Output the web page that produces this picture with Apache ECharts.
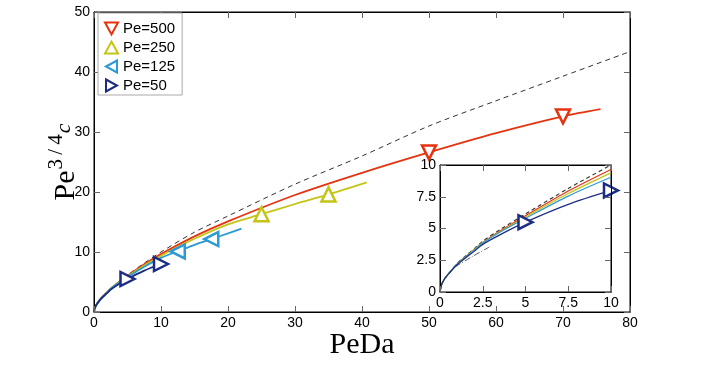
<!DOCTYPE html>
<html>
<head>
<meta charset="utf-8">
<script src="https://cdn.jsdelivr.net/npm/echarts@6/dist/echarts.min.js"></script>
<style>
  html, body { margin: 0; padding: 0; background: #fff; }
  #main { width: 706px; height: 377px; }
</style>
</head>
<body>
<div id="main"></div>
<script>
// curves (x = PeDa, y = Pe^{3/4} c)
var xDash = [0, 0.1, 0.25, 0.5, 1, 1.5, 2, 2.5, 3.5, 5, 7.5, 10, 15, 20, 30, 40, 50, 60, 70, 80];
var yDash = [0, 0.6, 1.0, 1.45, 2.25, 2.85, 3.4, 4.0, 4.9, 6.15, 8.15, 10.0, 13.3, 16.0, 21.3, 26.0, 31.0, 35.2, 39.3, 43.4];

var x500 = [0, 0.1, 0.25, 0.5, 1, 1.5, 2, 2.5, 3.5, 5, 7.5, 10, 15, 20, 30, 40, 50, 60, 70, 75.6];
var y500 = [0, 0.6, 1.0, 1.45, 2.2, 2.8, 3.35, 3.9, 4.8, 6.0, 7.95, 9.65, 12.6, 15.1, 19.5, 23.2, 26.6, 29.8, 32.6, 33.8];

var x250 = [0, 0.1, 0.25, 0.5, 1, 1.5, 2, 2.5, 3.5, 5, 7.5, 10, 15, 20, 25, 30, 35, 40.7];
var y250 = [0, 0.6, 1.0, 1.45, 2.2, 2.78, 3.33, 3.88, 4.75, 5.9, 7.75, 9.38, 12.2, 14.6, 16.3, 18.0, 19.6, 21.6];

var x125 = [0, 0.1, 0.25, 0.5, 1, 1.5, 2, 2.5, 3.5, 5, 7.5, 10, 12.5, 15, 17.5, 20, 22];
var y125 = [0, 0.6, 1.0, 1.45, 2.2, 2.75, 3.3, 3.85, 4.7, 5.8, 7.55, 9.03, 10.1, 11.2, 12.15, 13.1, 13.9];

var x50 = [0, 0.1, 0.25, 0.5, 1, 1.5, 2, 2.5, 3.5, 5, 7.5, 10];
var y50 = [0, 0.6, 1.0, 1.42, 2.15, 2.7, 3.2, 3.75, 4.5, 5.5, 6.9, 8.0];

// short-time asymptote (inset only)
var xDot = [0.9, 1.9, 2.9];
var yDot = [2.0, 2.8, 3.55];

// markers
var mk500 = [[50, 26.6], [70, 32.6]];
var mk250 = [[25, 16.3], [35, 19.6]];
var mk125 = [[12.5, 10.1], [17.5, 12.15]];
var mk50 = [[5, 5.5], [10, 8.0]];

var names = ['Pe=500', 'Pe=250', 'Pe=125', 'Pe=50'];
var colors = ['#e5330f', '#c4c417', '#2b9ad6', '#1b2c82'];
var rotations = [180, 0, 90, -90];
// legend icons: down, up, left, right triangles
var icons = [
    'path://M0,0L12,0L6,11Z',
    'path://M6,0L12,11L0,11Z',
    'path://M0,6L11,0L11,12Z',
    'path://M0,0L11,6L0,12Z'
];

function pairs(xs, ys, xmax) {
    var out = [];
    for (var i = 0; i < xs.length; i++) {
        if (xmax === undefined || xs[i] <= xmax) out.push([xs[i], ys[i]]);
    }
    return out;
}

var font = 'Liberation Sans';
var serif = 'Liberation Serif';

function tick() { return {show: true, inside: true, length: 6, lineStyle: {color: '#666', width: 1}}; }
function aline() { return {show: true, onZero: false, lineStyle: {color: '#000', width: 1}}; }
function lbl() { return {show: true, color: '#000', fontFamily: font, fontSize: 14, margin: 4}; }
function bare() { return {show: false}; }

var xAxes = [
    {type: 'value', gridIndex: 0, position: 'bottom', min: 0, max: 80, interval: 10, splitLine: bare(),
     axisTick: tick(), axisLine: aline(), axisLabel: lbl(), z: 5,
     name: 'PeDa', nameLocation: 'middle', nameGap: 18, nameMoveOverlap: false,
     nameTextStyle: {fontFamily: serif, fontSize: 30, color: '#000'}},
    {type: 'value', gridIndex: 0, position: 'top', min: 0, max: 80, interval: 10, splitLine: bare(),
     axisTick: tick(), axisLine: aline(), axisLabel: bare(), z: 5},
    {type: 'value', gridIndex: 1, position: 'bottom', min: 0, max: 10, interval: 2.5, splitLine: bare(),
     axisTick: tick(), axisLine: aline(), axisLabel: lbl(), z: 15},
    {type: 'value', gridIndex: 1, position: 'top', min: 0, max: 10, interval: 2.5, splitLine: bare(),
     axisTick: tick(), axisLine: aline(), axisLabel: bare(), z: 15}
];

var yAxes = [
    {type: 'value', gridIndex: 0, position: 'left', min: 0, max: 50, interval: 10, splitLine: bare(),
     axisTick: tick(), axisLine: aline(), axisLabel: lbl(), z: 5,
     name: '{a|Pe}{b|3\u2009/\u20094}{c|c}', nameLocation: 'middle', nameGap: 13, nameRotate: 90,
     nameMoveOverlap: false,
     nameTextStyle: {
         rich: {
             a: {fontFamily: serif, fontSize: 30, color: '#000', verticalAlign: 'bottom'},
             b: {fontFamily: serif, fontSize: 21, color: '#000', verticalAlign: 'bottom', padding: [0, 1, 14, 1]},
             c: {fontFamily: serif, fontStyle: 'italic', fontSize: 22, color: '#000', verticalAlign: 'bottom', padding: [0, 0, 6, 0]}
         }
     }},
    {type: 'value', gridIndex: 0, position: 'right', min: 0, max: 50, interval: 10, splitLine: bare(),
     axisTick: tick(), axisLine: aline(), axisLabel: bare(), z: 5},
    {type: 'value', gridIndex: 1, position: 'left', min: 0, max: 10, interval: 2.5, splitLine: bare(),
     axisTick: tick(), axisLine: aline(), axisLabel: lbl(), z: 15},
    {type: 'value', gridIndex: 1, position: 'right', min: 0, max: 10, interval: 2.5, splitLine: bare(),
     axisTick: tick(), axisLine: aline(), axisLabel: bare(), z: 15}
];

var curveX = [x500, x250, x125, x50];
var curveY = [y500, y250, y125, y50];
var marks = [mk500, mk250, mk125, mk50];

var series = [];

function line(data, color, width, type, ax, z) {
    return {
        type: 'line', xAxisIndex: ax, yAxisIndex: ax, data: data, smooth: 0.3,
        showSymbol: false, symbol: 'none', silent: true, z: z,
        lineStyle: {color: color, width: width, type: type}
    };
}

// main panel
series.push(line(pairs(xDash, yDash), '#333', 1, [5, 4], 0, 2));
for (var i = 0; i < 4; i++) {
    series.push(line(pairs(curveX[i], curveY[i]), colors[i], 1.8, 'solid', 0, 3));
}
for (var i = 0; i < 4; i++) {
    series.push({
        name: names[i], type: 'scatter', xAxisIndex: 0, yAxisIndex: 0, data: marks[i],
        symbol: 'triangle', symbolSize: 14, symbolRotate: rotations[i], z: 4,
        itemStyle: {color: '#fff', opacity: 1, borderColor: colors[i], borderWidth: 2.5}
    });
}

// inset panel
series.push(line(pairs(xDash, yDash, 10), '#333', 1.1, [4, 3], 2, 12));
for (var i = 0; i < 4; i++) {
    series.push(line(pairs(curveX[i], curveY[i], 10), colors[i], 1.2, 'solid', 2, 13));
}
series.push(line(pairs(xDot, yDot), '#555', 1, [6, 2, 1, 2], 2, 12));
series.push({
    type: 'scatter', xAxisIndex: 2, yAxisIndex: 2, data: mk50,
    symbol: 'triangle', symbolSize: 14, symbolRotate: -90, z: 14,
    itemStyle: {color: '#fff', opacity: 1, borderColor: colors[3], borderWidth: 2.5}
});

var legendData = names.map(function (n, i) {
    return {name: n, icon: icons[i]};
});

var chart = echarts.init(document.getElementById('main'));
chart.setOption({
    backgroundColor: '#fff',
    animation: false,
    grid: [
        {left: 94, right: 76, top: 12, bottom: 65, show: true, borderColor: '#000', borderWidth: 1},
        {left: 440, right: 95, top: 165, bottom: 85, show: true, backgroundColor: '#fff',
         borderColor: '#000', borderWidth: 1, z: 10}
    ],
    legend: {
        data: legendData, orient: 'vertical', left: 98, top: 13, z: 20,
        backgroundColor: '#fff', borderColor: '#aaa', borderWidth: 1,
        padding: [8, 7, 2, 6], itemGap: 4, itemWidth: 13, itemHeight: 12,
        textStyle: {fontFamily: font, fontSize: 15, color: '#000', lineHeight: 14}
    },
    xAxis: xAxes,
    yAxis: yAxes,
    series: series
});
</script>
</body>
</html>
